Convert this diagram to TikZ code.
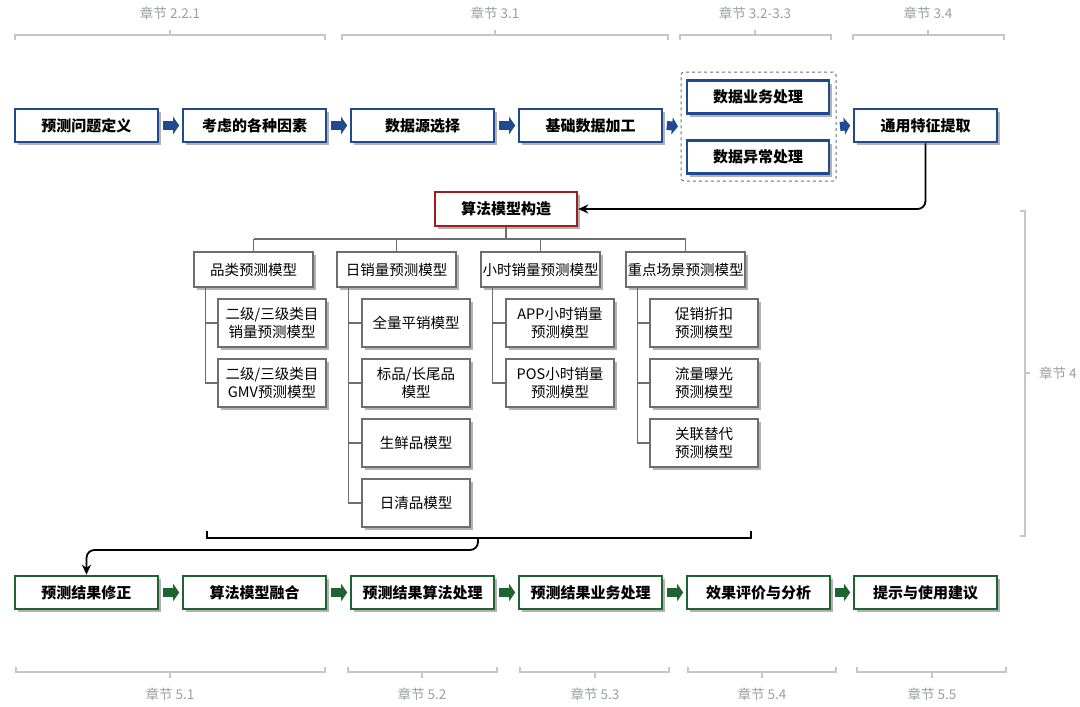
\documentclass[tikz,border=0pt]{standalone}
\usepackage{fontspec}
\setmainfont{Noto Sans CJK SC}
\usetikzlibrary{shadows,arrows.meta}
\definecolor{bblue}{HTML}{1F4A93}
\definecolor{ggreen}{HTML}{1E6430}
\definecolor{rred}{HTML}{9E1F1F}
\definecolor{bgray}{HTML}{C3C7CC}
\definecolor{lgray}{HTML}{9A9EA4}
\definecolor{tgray}{HTML}{6E6E6E}
\tikzset{
  shad/.style={drop shadow={shadow xshift=3pt,shadow yshift=-3pt,fill=black,opacity=0.3}},
  flowbox/.style={fill=white, line width=2.6pt, minimum width=143pt, minimum height=33pt,
    inner sep=0pt, font=\bfseries\fontsize{15}{17}\selectfont, shad},
  bluebox/.style={flowbox, draw=bblue},
  greenbox/.style={flowbox, draw=ggreen},
  redbox/.style={flowbox, draw=rred, minimum width=142pt, minimum height=34pt},
  catbox/.style={draw=tgray, line width=1.2pt, fill=white, minimum width=119pt, minimum height=35pt,
    inner sep=0pt, font=\fontsize{14.5}{17}\selectfont, shad},
  leafbox/.style={draw=tgray, line width=1.2pt, fill=white, minimum width=108pt, minimum height=48pt,
    inner sep=0pt, align=center, font=\fontsize{14.5}{18}\selectfont, shad},
  grpbox/.style={draw=tgray, line width=1pt, dashed, rounded corners=3pt, minimum width=155pt, minimum height=109pt},
  blockarrow/.style={line width=9pt, -{Triangle[length=6pt,width=17pt]}},
  brk/.style={draw=bgray, line width=1.5pt},
  chlabel/.style={text=lgray, font=\fontsize{13.5}{15}\selectfont, inner sep=0pt},
  tline/.style={draw=tgray, line width=1.2pt},
  conn/.style={draw=black, line width=1.8pt, rounded corners=8pt, -{Stealth[length=10pt,width=9pt]}},
}
\begin{document}
\begin{tikzpicture}[x=1pt,y=-1pt]
\useasboundingbox (0,0) rectangle (1080,707);
% top chapter brackets
\foreach \a/\b/\c/\t/\n in {15/325/170/{2.2.1}/h1, 342/668/495/{3.1}/h2, 680/831/755/{3.2-3.3}/h3, 853/1004/928/{3.4}/h4}{
  \draw[brk] (\a,40) -- (\a,35) -- (\b,35) -- (\b,40) (\c,35) -- (\c,30);
  \node[chlabel] (\n) at (\c,13) {章节 \t};
}
% bottom chapter brackets
\foreach \a/\b/\c/\t/\n in {16/325/170/{5.1}/l1, 348/497/422/{5.2}/l2, 520/669/595/{5.3}/l3, 688/836/762/{5.4}/l4, 857/1006/932/{5.5}/l5}{
  \draw[brk] (\a,667) -- (\a,672) -- (\b,672) -- (\b,667) (\c,672) -- (\c,678);
  \node[chlabel] (\n) at (\c,694) {章节 \t};
}
% right chapter bracket
\draw[brk] (1020,211) -- (1025,211) -- (1025,536) -- (1020,536) (1025,373) -- (1030,373);
\node[chlabel, anchor=west] (c4l) at (1039,373) {章节 4};

% top row
\node[bluebox] (t1) at (86.5,125.5) {预测问题定义};
\node[bluebox] (t2) at (254.5,125.5) {考虑的各种因素};
\node[bluebox] (t3) at (422.5,125.5) {数据源选择};
\node[bluebox] (t4) at (590.5,125.5) {基础数据加工};
\node[grpbox] (grp) at (758.5,126.5) {};
\node[bluebox, minimum width=142pt] (g1) at (758,97) {数据业务处理};
\node[bluebox, minimum width=142pt] (g2) at (758,157) {数据异常处理};
\node[bluebox] (t6) at (925.5,125.5) {通用特征提取};
\foreach \p/\q in {t1/t2, t2/t3, t3/t4, t4/grp, grp/t6}
  \draw[blockarrow, bblue] ([xshift=3.5pt]\p.east) -- ([xshift=-2.5pt]\q.west);

% algorithm model
\node[redbox] (alg) at (506,209) {算法模型构造};
\draw[conn] (t6.south) |- (alg.east);

% categories
\node[catbox] (c1) at (253.5,269.5) {品类预测模型};
\node[catbox] (c2) at (396.5,269.5) {日销量预测模型};
\node[catbox] (c3) at (540.5,269.5) {小时销量预测模型};
\node[catbox] (c4) at (685.5,269.5) {重点场景预测模型};
\coordinate (bus) at (506,239);
\draw[tline] (alg.south) -- (bus);
\draw[tline] (c1.north |- bus) -- (c4.north |- bus);
\foreach \c in {c1,c2,c3,c4} \draw[tline] (\c.north |- bus) -- (\c.north);

% leaves
\node[leafbox] (a1) at (272,323) {二级/三级类目\\销量预测模型};
\node[leafbox] (a2) at (272,383) {二级/三级类目\\GMV预测模型};
\node[leafbox] (b1) at (416,323) {全量平销模型};
\node[leafbox] (b2) at (416,383) {标品/长尾品\\模型};
\node[leafbox] (b3) at (416,443) {生鲜品模型};
\node[leafbox] (b4) at (416,503) {日清品模型};
\node[leafbox] (d1) at (560,323) {APP小时销量\\预测模型};
\node[leafbox] (d2) at (560,383) {POS小时销量\\预测模型};
\node[leafbox] (e1) at (704,323) {促销折扣\\预测模型};
\node[leafbox] (e2) at (704,383) {流量曝光\\预测模型};
\node[leafbox] (e3) at (704,443) {关联替代\\预测模型};
\foreach \p/\k in {c1/a1, c1/a2, c2/b1, c2/b2, c2/b3, c2/b4, c3/d1, c3/d2, c4/e1, c4/e2, c4/e3}
  \draw[tline] ([xshift=12pt]\p.south west) |- (\k.west);

% bottom row
\node[greenbox] (m1) at (86.5,592.5) {预测结果修正};
\node[greenbox] (m2) at (254.5,592.5) {算法模型融合};
\node[greenbox] (m3) at (422.5,592.5) {预测结果算法处理};
\node[greenbox] (m4) at (590.5,592.5) {预测结果业务处理};
\node[greenbox] (m5) at (758.5,592.5) {效果评价与分析};
\node[greenbox] (m6) at (925.5,592.5) {提示与使用建议};
\foreach \p/\q in {m1/m2, m2/m3, m3/m4, m4/m5, m5/m6}
  \draw[blockarrow, ggreen] ([xshift=3.5pt]\p.east) -- ([xshift=-2.5pt]\q.west);

% closing bracket of the model block and connector
\coordinate (bl) at (207,531);
\coordinate (br) at (751,531);
\coordinate (bc) at (478,538);
\draw[black, line width=1.8pt] (bl) -- (207,538) -- (751,538) -- (br);
\draw[conn] (bc) -- (478,550) -- (86.5,550) -- (m1.north);
\end{tikzpicture}
\end{document}
